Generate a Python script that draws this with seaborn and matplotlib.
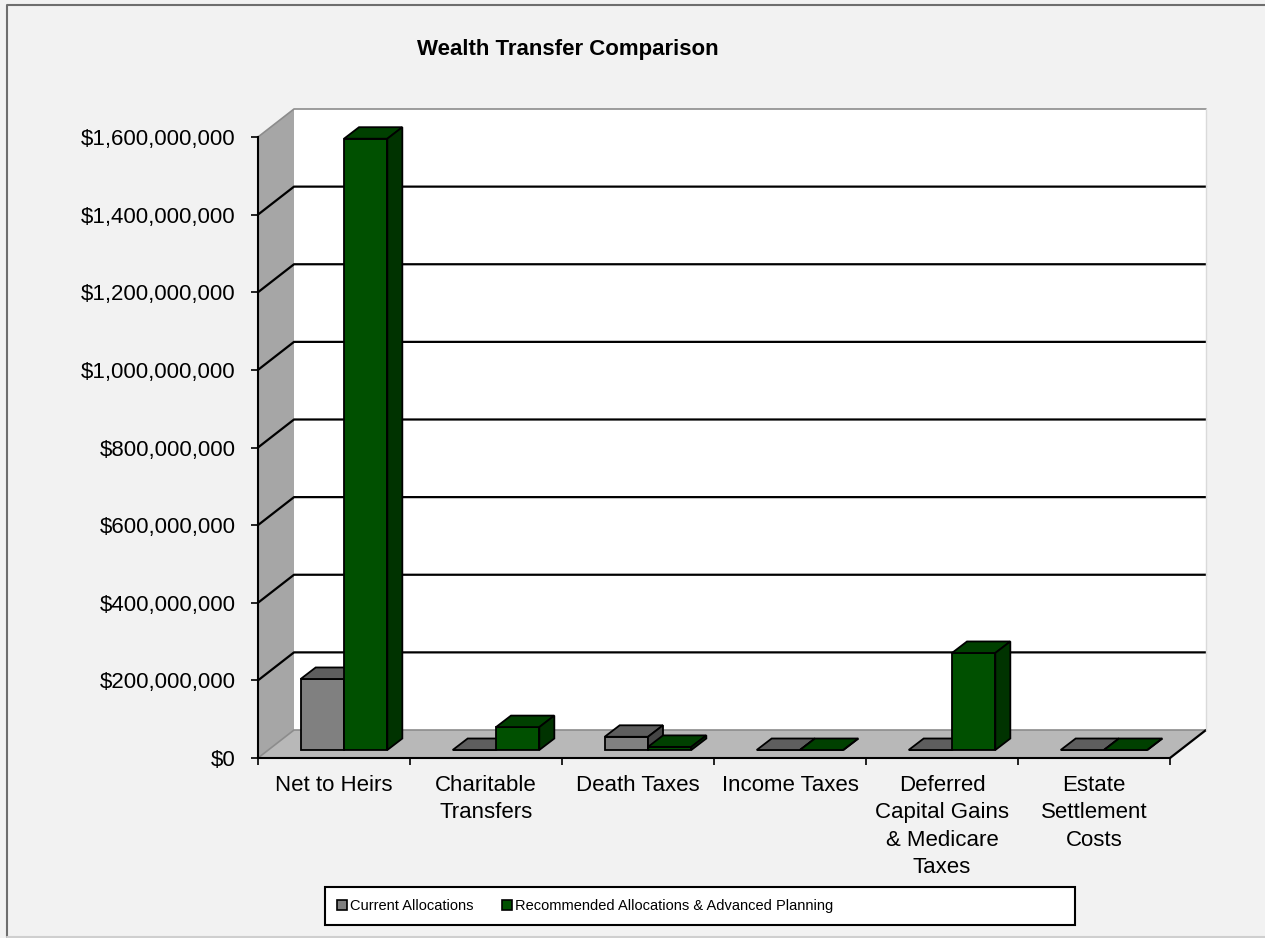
import numpy as np
import pandas as pd
import seaborn as sns
import matplotlib.pyplot as plt
from matplotlib.patches import Polygon, Patch, Rectangle
from matplotlib.lines import Line2D
from matplotlib.transforms import IdentityTransform, ScaledTranslation
from matplotlib.ticker import FuncFormatter, FixedLocator

W, H, DPI = 1265, 938, 100

categories = [
    "Net to Heirs",
    "Charitable\nTransfers",
    "Death Taxes",
    "Income Taxes",
    "Deferred\nCapital Gains\n& Medicare\nTaxes",
    "Estate\nSettlement\nCosts",
]
series = ["Current Allocations", "Recommended Allocations & Advanced Planning"]
current = [183e6, 0, 34e6, 0, 0, 0]
recommended = [1575e6, 59e6, 8e6, 0, 250e6, 0]
y_ticks = [0, 200e6, 400e6, 600e6, 800e6, 1000e6, 1200e6, 1400e6, 1600e6]

# front / top / side shades for each series
shades = [
    ("#808080", "#5E5E5E", "#454545"),
    ("#005000", "#004000", "#003300"),
]

sns.set_style("white")
plt.rcParams["font.family"] = ["Liberation Sans", "DejaVu Sans"]
plt.rcParams["text.color"] = "black"
plt.rcParams["xtick.color"] = "black"
plt.rcParams["ytick.color"] = "black"


def fx(px):
    return px / W


def fy(py):
    return 1 - py / H


fig = plt.figure(figsize=(W / DPI, H / DPI), dpi=DPI, facecolor="#F2F2F2")
ax = fig.add_axes([fx(258), fy(758), (1170 - 258) / W, (758 - 137) / H])
ax.patch.set_visible(False)

df = pd.DataFrame({
    "category": categories * 2,
    "series": [series[0]] * len(categories) + [series[1]] * len(categories),
    "value": current + recommended,
})
sns.barplot(
    data=df, x="category", y="value", hue="series",
    order=categories, hue_order=series,
    palette=[s[0] for s in shades], saturation=1, width=0.57, gap=0,
    edgecolor="black", linewidth=1.3, legend=False, ax=ax,
)
bars = [p for p in ax.patches if isinstance(p, Rectangle)]
x_lo, x_hi = -0.5, len(categories) - 0.5
y_top = y_ticks[-1]
ax.set_xlim(x_lo, x_hi)
ax.set_ylim(0, y_top)

ident = IdentityTransform()
WALL = (36, 28)      # depth of the box, pixels
SHIFT = (10, 8)      # bars sit a bit back from the front plane
DEPTH = (15, 11.5)   # depth of each bar


def proj(x, y, d=(0, 0)):
    p = ax.transData.transform((x, y))
    return (p[0] + d[0], p[1] + d[1])


def poly_line(pts, **kw):
    ax.add_line(Line2D([p[0] for p in pts], [p[1] for p in pts], transform=ident,
                       clip_on=False, **kw))


# walls and floor
back = [proj(x_lo, 0, WALL), proj(x_hi, 0, WALL), proj(x_hi, y_top, WALL), proj(x_lo, y_top, WALL)]
ax.add_patch(Polygon(back, transform=ident, facecolor="white", edgecolor="none", zorder=0.5, clip_on=False))
left = [proj(x_lo, 0), proj(x_lo, 0, WALL), proj(x_lo, y_top, WALL), proj(x_lo, y_top)]
ax.add_patch(Polygon(left, transform=ident, facecolor="#A6A6A6", edgecolor="none", zorder=0.6, clip_on=False))
floor = [proj(x_lo, 0), proj(x_hi, 0), proj(x_hi, 0, WALL), proj(x_lo, 0, WALL)]
ax.add_patch(Polygon(floor, transform=ident, facecolor="#B8B8B8", edgecolor="none", zorder=0.7, clip_on=False))

for v in y_ticks:
    edge = v in (0, y_top)
    poly_line([proj(x_lo, v), proj(x_lo, v, WALL), proj(x_hi, v, WALL)],
              color="#8C8C8C" if edge else "black", lw=1.2 if edge else 1.6, zorder=0.9)

poly_line([proj(x_hi, 0), proj(x_hi, 0, WALL)], color="black", lw=1.6, zorder=0.9)
poly_line([proj(x_hi, 0, WALL), proj(x_hi, y_top, WALL)], color="#DADADA", lw=1, zorder=0.9)

# give the bars their 3d look
shift = ScaledTranslation(SHIFT[0] / DPI, SHIFT[1] / DPI, fig.dpi_scale_trans)
for p in bars:
    if p.get_width() == 0:
        continue
    xc = p.get_x() + p.get_width() / 2
    i = int(round(xc))
    j = 0 if xc < i else 1
    base = 10 + i * 10 + j * 4
    x0, x1 = p.get_x(), p.get_x() + p.get_width()
    h = p.get_height()
    p.set_transform(ax.transData + shift)
    p.set_clip_on(False)
    p.set_zorder(base)
    a = proj(x0, h, SHIFT)
    b = proj(x1, h, SHIFT)
    c = proj(x1, 0, SHIFT)
    top = [a, b, (b[0] + DEPTH[0], b[1] + DEPTH[1]), (a[0] + DEPTH[0], a[1] + DEPTH[1])]
    side = [c, b, (b[0] + DEPTH[0], b[1] + DEPTH[1]), (c[0] + DEPTH[0], c[1] + DEPTH[1])]
    ax.add_patch(Polygon(top, transform=ident, facecolor=shades[j][1], edgecolor="black",
                         lw=1.3, zorder=base + 1, clip_on=False))
    ax.add_patch(Polygon(side, transform=ident, facecolor=shades[j][2], edgecolor="black",
                         lw=1.3, zorder=base + 2, clip_on=False))

ax.set_xlim(x_lo, x_hi)
ax.set_ylim(0, y_top)

# axes, ticks, labels
for s in ["top", "right"]:
    ax.spines[s].set_visible(False)
for s in ["left", "bottom"]:
    ax.spines[s].set_color("black")
    ax.spines[s].set_linewidth(1.5)

ax.set_yticks(y_ticks)
ax.yaxis.set_major_formatter(FuncFormatter(lambda v, _: f"${v:,.0f}"))
ax.tick_params(axis="y", left=True, length=5, width=1.2, pad=11, labelsize=16,
               direction="out", color="black", labelcolor="black")
ax.set_xticks(range(len(categories)))
ax.set_xticklabels(categories, fontsize=16, linespacing=1.38, va="top", color="black")
ax.xaxis.set_minor_locator(FixedLocator(np.arange(x_lo, x_hi + 0.1, 1)))
ax.tick_params(axis="x", which="major", length=0, pad=12.5)
ax.tick_params(axis="x", which="minor", bottom=True, length=5, width=1.2,
               direction="out", color="black")
ax.set_xlabel("")
ax.set_ylabel("")

fig.text(fx(568), fy(50), "Wealth Transfer Comparison", ha="center", va="center",
         fontsize=16, fontweight="bold", color="black")

# legend
fig.add_artist(Rectangle((fx(325), fy(925)), (1075 - 325) / W, (925 - 887) / H,
                         transform=fig.transFigure, facecolor="white",
                         edgecolor="black", lw=1.5))
handles = [Patch(facecolor=shades[k][0], edgecolor="black", lw=1.2) for k in range(2)]
fig.legend(handles, series, loc="center", bbox_to_anchor=(fx(585), fy(906)), ncol=2,
           frameon=False, fontsize=10.5, handlelength=0.65, handleheight=0.75,
           handletextpad=0.2, columnspacing=2.0)

# chart border: dark on top and left, faint along the bottom
fig.add_artist(Line2D([fx(7), fx(7), fx(1265)], [fy(937), fy(5), fy(5)],
                      transform=fig.transFigure, color="#6E6E6E", lw=1.5))
fig.add_artist(Line2D([fx(7), fx(1265)], [fy(937), fy(937)],
                      transform=fig.transFigure, color="#CFCFCF", lw=1.5))

fig.savefig("out.png", dpi=DPI, facecolor=fig.get_facecolor())
